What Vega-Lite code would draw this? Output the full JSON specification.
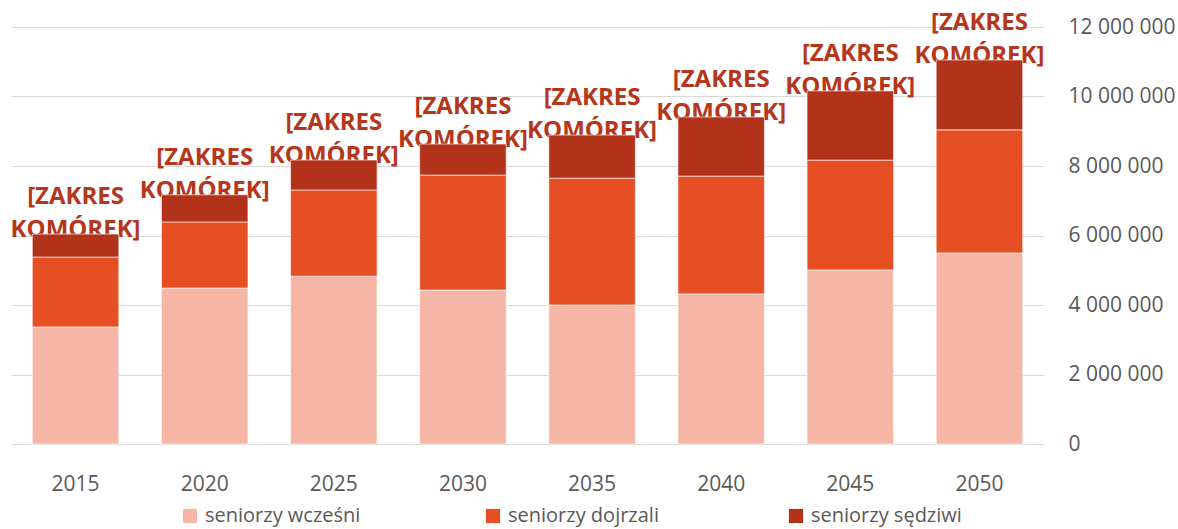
{
  "$schema": "https://vega.github.io/schema/vega-lite/v6.json",
  "width": 1033,
  "height": 417,
  "autosize": {"type": "none"},
  "padding": {"left": 11, "top": 27, "right": 134, "bottom": 85},
  "background": "white",
  "config": {
    "locale": {"number": {"decimal": ",", "thousands": " ", "grouping": [3], "currency": ["", " zł"]}},
    "view": {"stroke": null},
    "font": "Open Sans"
  },
  "data": {
    "values": [
      {"year": "2015", "group": "seniorzy wcześni", "ord": 1, "value": 3370000},
      {"year": "2015", "group": "seniorzy dojrzali", "ord": 2, "value": 2010000},
      {"year": "2015", "group": "seniorzy sędziwi", "ord": 3, "value": 660000},
      {"year": "2020", "group": "seniorzy wcześni", "ord": 1, "value": 4490000},
      {"year": "2020", "group": "seniorzy dojrzali", "ord": 2, "value": 1900000},
      {"year": "2020", "group": "seniorzy sędziwi", "ord": 3, "value": 780000},
      {"year": "2025", "group": "seniorzy wcześni", "ord": 1, "value": 4830000},
      {"year": "2025", "group": "seniorzy dojrzali", "ord": 2, "value": 2480000},
      {"year": "2025", "group": "seniorzy sędziwi", "ord": 3, "value": 860000},
      {"year": "2030", "group": "seniorzy wcześni", "ord": 1, "value": 4430000},
      {"year": "2030", "group": "seniorzy dojrzali", "ord": 2, "value": 3310000},
      {"year": "2030", "group": "seniorzy sędziwi", "ord": 3, "value": 890000},
      {"year": "2035", "group": "seniorzy wcześni", "ord": 1, "value": 4000000},
      {"year": "2035", "group": "seniorzy dojrzali", "ord": 2, "value": 3650000},
      {"year": "2035", "group": "seniorzy sędziwi", "ord": 3, "value": 1240000},
      {"year": "2040", "group": "seniorzy wcześni", "ord": 1, "value": 4320000},
      {"year": "2040", "group": "seniorzy dojrzali", "ord": 2, "value": 3390000},
      {"year": "2040", "group": "seniorzy sędziwi", "ord": 3, "value": 1700000},
      {"year": "2045", "group": "seniorzy wcześni", "ord": 1, "value": 5010000},
      {"year": "2045", "group": "seniorzy dojrzali", "ord": 2, "value": 3160000},
      {"year": "2045", "group": "seniorzy sędziwi", "ord": 3, "value": 1990000},
      {"year": "2050", "group": "seniorzy wcześni", "ord": 1, "value": 5500000},
      {"year": "2050", "group": "seniorzy dojrzali", "ord": 2, "value": 3540000},
      {"year": "2050", "group": "seniorzy sędziwi", "ord": 3, "value": 2010000}
    ]
  },
  "encoding": {
    "x": {
      "field": "year", "type": "ordinal",
      "scale": {"paddingInner": 0.33, "paddingOuter": 0.165},
      "axis": {"title": null, "labelAngle": 0, "domain": false, "ticks": false, "labelPadding": 29, "labelFontSize": 21, "labelColor": "#595959", "labelFont": "Open Sans"}
    }
  },
  "layer": [
    {
      "transform": [{"aggregate": [{"op": "sum", "field": "value", "as": "total"}], "groupby": ["year"]}],
      "mark": {"type": "text", "text": ["[ZAKRES", "KOMÓREK]"], "font": "Open Sans", "fontWeight": "bold", "fontSize": 24, "lineHeight": 33, "color": "#b5361a", "baseline": "middle", "align": "center", "dy": -37},
      "encoding": {
        "y": {
          "field": "total", "type": "quantitative", "scale": {"domain": [0, 12000000]},
          "axis": {"orient": "right", "title": null, "values": [0, 2000000, 4000000, 6000000, 8000000, 10000000, 12000000], "format": ",d", "domain": false, "ticks": false, "labelPadding": 24, "labelFontSize": 21, "labelColor": "#595959", "labelFont": "Open Sans", "gridColor": "#d9d9d9", "gridWidth": 1.2}
        }
      }
    },
    {
      "mark": {"type": "bar", "stroke": "white", "strokeWidth": 0.6},
      "encoding": {
        "y": {
          "field": "value", "type": "quantitative", "stack": "zero",
          "scale": {"domain": [0, 12000000]},
          "axis": {"orient": "right", "title": null, "values": [0, 2000000, 4000000, 6000000, 8000000, 10000000, 12000000], "format": ",d", "domain": false, "ticks": false, "labelPadding": 24, "labelFontSize": 21, "labelColor": "#595959", "labelFont": "Open Sans", "gridColor": "#d9d9d9", "gridWidth": 1.2}
        },
        "color": {
          "field": "group", "type": "nominal",
          "scale": {"domain": ["seniorzy wcześni", "seniorzy dojrzali", "seniorzy sędziwi"], "range": ["#f5b6a5", "#e64e24", "#b3321a"]},
          "legend": {"title": null, "orient": "none", "direction": "horizontal", "legendX": 169, "legendY": 479, "symbolType": "square", "symbolSize": 200, "symbolStrokeWidth": 0, "labelFontSize": 20, "labelColor": "#595959", "labelFont": "Open Sans", "labelOffset": 5, "columnPadding": 122, "gridAlign": "all", "padding": 0, "labelLimit": 300}
        },
        "order": {"field": "ord", "type": "quantitative", "sort": "ascending"}
      }
    }
  ]
}
